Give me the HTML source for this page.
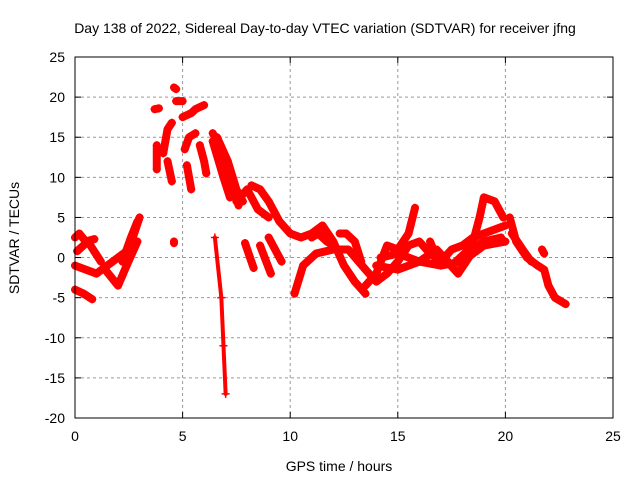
<!DOCTYPE html>
<html><head><meta charset="utf-8"><style>
body{margin:0;background:#fff;}
svg{display:block;font-family:"Liberation Sans",sans-serif;}
</style></head><body>
<svg id="chart" width="640" height="480">
<rect width="640" height="480" fill="#fff"/>
<g id="grid"></g><g id="marks"></g><g id="axes"></g>
<text x="325" y="33" font-size="14" text-anchor="middle">Day 138 of 2022, Sidereal Day-to-day VTEC variation (SDTVAR) for receiver jfng</text>
<text x="339" y="471" font-size="14" text-anchor="middle">GPS time / hours</text>
<text transform="translate(19,238) rotate(-90)" font-size="14" text-anchor="middle">SDTVAR / TECUs</text>
</svg>
<script>
const xTicks=[0,5,10,15,20,25];
const yTicks=[25,20,15,10,5,0,-5,-10,-15,-20];
const tracks=[
[[0,2.5],[0.2,3],[0.5,2],[0.9,2.3]],
[[0,-4],[0.4,-4.5],[0.8,-5.2]],
[[0,-1],[0.5,-1.5],[1,-2],[1.5,-1],[2,0],[2.5,1],[3,5]],
[[1.4,-1.5],[2,-3.5],[2.4,-1],[2.9,2]],
[[2.2,-0.5],[2.6,2.5],[2.9,4.5]],
[[0.1,0.8],[0.6,2],[1.2,-0.5]],
[[3.7,18.5],[3.9,18.6]],
[[3.8,14],[3.8,11]],
[[4.1,13],[4.3,16],[4.5,16.8]],
[[4.6,21.2],[4.7,21]],
[[4.3,12],[4.5,9.5]],
[[4.7,19.5],[5,19.5]],
[[5,17.5],[5.4,18],[5.6,18.5],[6,19]],
[[5.1,13.5],[5.3,15],[5.6,15.5]],
[[5.2,11.5],[5.4,8.5]],
[[5.8,14],[6,12],[6.1,10.5]],
[[6.4,15.5],[6.7,14],[7,11.5],[7.3,9],[7.6,6.5]],
[[6.4,14.5],[6.9,10],[7.2,7.5]],
[[6.6,15],[7.1,12],[7.5,8.5],[7.8,7]],
[[8.2,9],[8.6,8.5],[9,7],[9.5,4.5],[10,3],[10.5,2.5],[11,3],[11.5,4],[12,2],[12.5,-1],[13,-3],[13.5,-4.5]],
[[7.5,7],[8,8.5],[8.5,6],[9,5]],
[[7.9,1.8],[8.3,-1.3]],
[[8.6,1.5],[9.1,-2]],
[[9,2.5],[9.6,-0.5]],
[[6.5,2.5],[6.8,-5],[6.9,-11],[7,-17]],
[[4.6,2],[4.6,1.8]],
[[10.2,-4.5],[10.6,-1],[11.2,0.5],[12,1],[12.7,1],[13.5,-1.5],[14,-3],[14.5,-2],[15,-0.5],[15.5,1.5],[16,2],[16.5,0.5],[17,-0.5],[17.5,1],[18,1.5],[18.5,2.5],[19,3],[19.5,3.5],[20,4]],
[[13.5,-3.5],[14,-2],[14.5,1.5],[15,1],[15.5,3],[15.8,6.2]],
[[16.5,2],[16.8,0],[17.3,-0.5],[17.8,-2],[18.3,0],[18.8,5],[19,7.5],[19.5,7],[19.9,5]],
[[14,-1],[15,-1.5],[16,-0.5],[17,-1],[18,-0.5],[19,1.5],[20,2]],
[[14.2,0],[15,0.5],[16,-0.5],[16.8,1],[17.5,-1],[18.3,1],[19,2],[19.8,2.5]],
[[20.2,5],[20.5,2],[21,0],[21.5,-1],[21.8,-1.5],[22,-3.5],[22.3,-5],[22.8,-5.8]],
[[20.3,3],[20.8,1],[21.2,-0.5]],
[[21.7,1],[21.8,0.5]],
[[12.3,3],[12.6,3],[13,2],[13.3,-0.5]],
[[11,2.5],[11.3,3],[11.7,2],[12,1.5]]
];
const L=75,R=613,T=57,B=418;
const xs=t=>L+(t-0)/25*(R-L);
const ys=v=>T+(25-v)/45*(B-T);
const NS='http://www.w3.org/2000/svg';
function mk(tag,attrs,parent){const e=document.createElementNS(NS,tag);for(const k in attrs)e.setAttribute(k,attrs[k]);parent.appendChild(e);return e;}
const grid=document.getElementById('grid'),axes=document.getElementById('axes'),marks=document.getElementById('marks');
xTicks.forEach(t=>{const x=xs(t);
 if(t>0&&t<25){const g=mk('line',{x1:x,x2:x,y1:T,y2:B,stroke:'#999','stroke-dasharray':'3,3'},grid);}
 mk('line',{x1:x,x2:x,y1:B,y2:B-6,stroke:'#000'},axes);mk('line',{x1:x,x2:x,y1:T,y2:T+6,stroke:'#000'},axes);
 const l=mk('text',{x:x,y:B+23,'font-size':14,'text-anchor':'middle'},axes);l.textContent=t;
 });
yTicks.forEach(v=>{const y=ys(v);
 if(v<25&&v>-20){const g=mk('line',{x1:L,x2:R,y1:y,y2:y,stroke:'#999','stroke-dasharray':'3,3'},grid);}
 mk('line',{x1:L,x2:L+6,y1:y,y2:y,stroke:'#000'},axes);mk('line',{x1:R,x2:R-6,y1:y,y2:y,stroke:'#000'},axes);
 const l=mk('text',{x:L-10,y:y+5,'font-size':14,'text-anchor':'end'},axes);l.textContent=v;
 });
const frame=mk('rect',{x:L,y:T,width:R-L,height:B-T,fill:'none',stroke:'#000'},axes);


tracks.forEach(tr=>{
 const steep=tr.length>1&&Math.abs(tr[tr.length-1][1]-tr[0][1])>15;
 const p=mk('polyline',{points:tr.map(d=>xs(d[0])+','+ys(d[1])).join(' '),fill:'none',stroke:'#f00','stroke-width':steep?4:8,'stroke-linecap':'round','stroke-linejoin':'round'},marks);
 
 
 tr.forEach(d=>{const x=xs(d[0]),y=ys(d[1]);
  const m=mk('path',{d:`M${x-4},${y}H${x+4}M${x},${y-4}V${y+4}`,stroke:'#f00','stroke-width':1.5},marks);
  
  });
});
</script>
</body></html>
